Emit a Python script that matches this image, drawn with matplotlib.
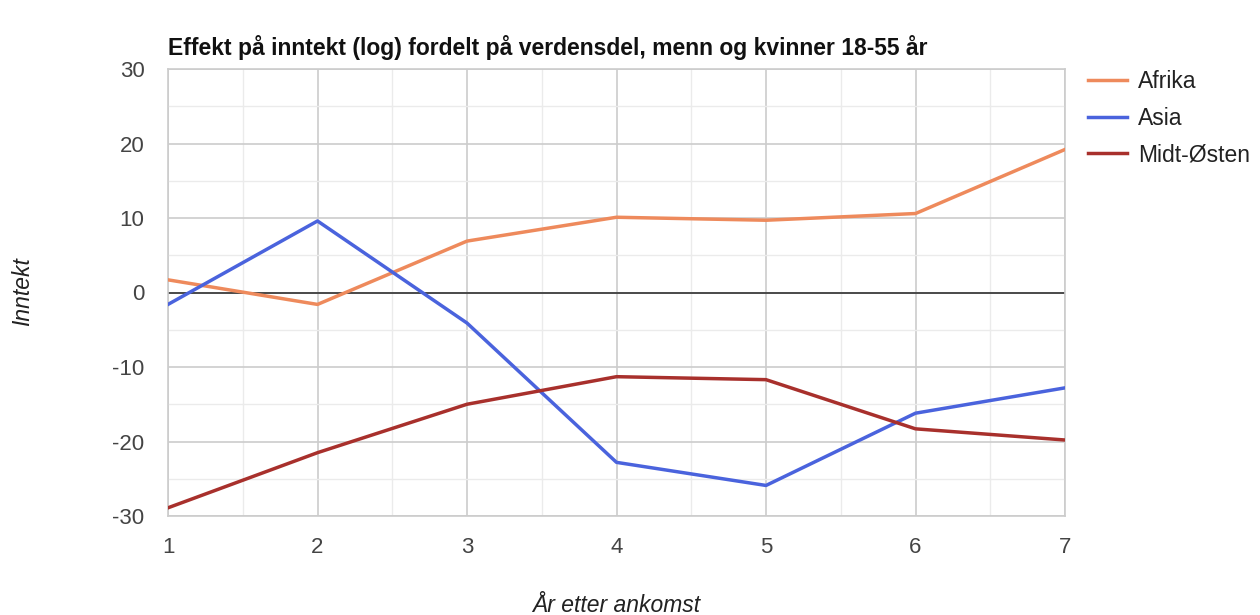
import matplotlib
matplotlib.use("Agg")
import matplotlib.pyplot as plt
from matplotlib.ticker import MultipleLocator

plt.rcParams['font.family'] = ['Liberation Sans', 'DejaVu Sans']
plt.rcParams['axes.unicode_minus'] = False

years = [1, 2, 3, 4, 5, 6, 7]
afrika = [1.7, -1.6, 6.9, 10.1, 9.7, 10.6, 19.2]
asia = [-1.6, 9.6, -4.1, -22.8, -25.9, -16.2, -12.8]
midt_osten = [-28.9, -21.5, -15.0, -11.3, -11.7, -18.3, -19.8]
series_names = ["Afrika", "Asia", "Midt-Østen"]
colors = ["#EE8A5C", "#4A63DD", "#A8302C"]

title = "Effekt på inntekt (log) fordelt på verdensdel, menn og kvinner 18-55 år"
xlabel = "År etter ankomst"
ylabel = "Inntekt"

fig = plt.figure(figsize=(12.6, 6.15), dpi=100)
ax = fig.add_axes([168/1260, 1 - 516/615, (1065-168)/1260, (516-69)/615])

ax.set_xlim(1, 7)
ax.set_ylim(-30, 30)
ax.xaxis.set_major_locator(MultipleLocator(1))
ax.xaxis.set_minor_locator(MultipleLocator(0.5))
ax.yaxis.set_major_locator(MultipleLocator(10))
ax.yaxis.set_minor_locator(MultipleLocator(5))
ax.set_axisbelow(True)
ax.grid(which='major', color='#cccccc', linewidth=1.2)
ax.grid(which='minor', color='#ebebeb', linewidth=1.0)
ax.tick_params(which='both', length=0)
ax.tick_params(axis='y', labelsize=16, labelcolor='#444444', pad=17)
ax.tick_params(axis='x', labelsize=16, labelcolor='#444444', pad=15)
for s in ax.spines.values():
    s.set_color('#cccccc')
    s.set_linewidth(1.2)
ax.axhline(0, color='#333333', linewidth=1.2, zorder=2)

for name, vals, c in zip(series_names, [afrika, asia, midt_osten], colors):
    ax.plot(years, vals, color=c, linewidth=2.5, label=name, zorder=3)

leg = fig.legend(loc='upper left', bbox_to_anchor=(1088/1260, 1 - 70/615), frameon=False,
                 fontsize=16.5, handlelength=1.7, handletextpad=0.5, labelspacing=0.6,
                 borderaxespad=0, borderpad=0)
for t in leg.get_texts():
    t.set_color('#222222')

fig.text(168/1260, 1 - 48/615, title, fontsize=16.5, fontweight='bold', ha='left', va='center', color='#111111')
fig.text(616/1260, 1 - 606/615, xlabel, fontsize=16.5, style='italic', ha='center', va='center', color='#222222')
fig.text(23/1260, 1 - 292/615, ylabel, fontsize=16.5, style='italic', rotation=90, ha='center', va='center', color='#222222')

fig.savefig("out.png", dpi=100, facecolor='white')
